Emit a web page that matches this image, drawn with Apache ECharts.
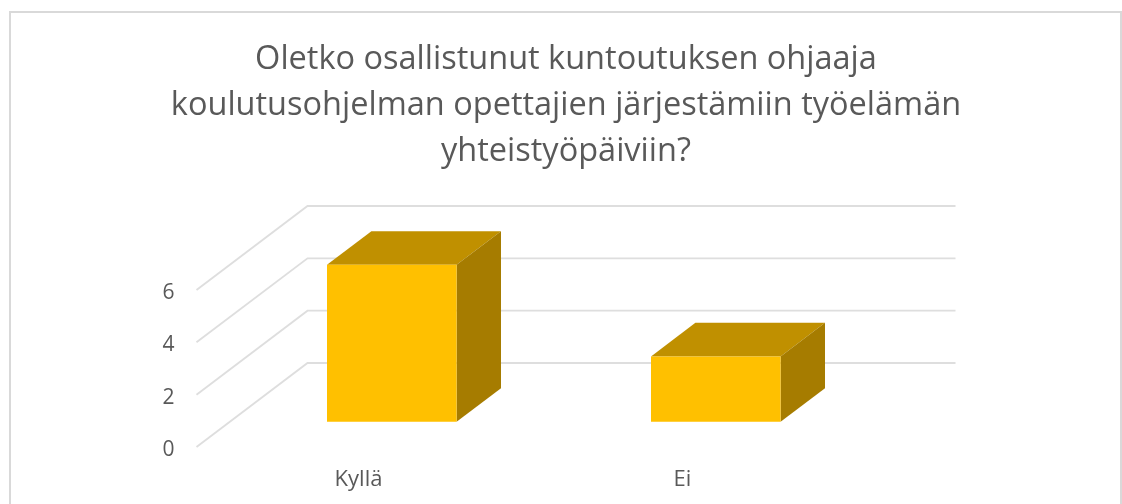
<!DOCTYPE html>
<html>
<head>
<meta charset="utf-8">
<style>
html, body { margin: 0; padding: 0; background: #fff; overflow: hidden; }
#chart { width: 1122px; height: 504px; }
</style>
<script src="https://cdn.jsdelivr.net/npm/echarts@6/dist/echarts.min.js"></script>
</head>
<body>
<div id="chart"></div>
<script>
let title_lines = [
    "Oletko osallistunut kuntoutuksen ohjaaja",
    "koulutusohjelman opettajien järjestämiin työelämän",
    "yhteistyöpäiviin?"
];
let categories = ["Kyllä", "Ei"];
let values = [6, 2.5];
let y_ticks = [0, 2, 4, 6];

let font = '"Open Sans", sans-serif';

// how far the back wall sits from the front plane of the grid
let depth_x = 111;
let depth_y = -84;
// bars stand between these fractions of the depth
let bar_front = 0.3;
let bar_back = 0.7;

// floor-to-wall lines: from front plane, up the side wall, along the back wall
function render_wall_line(params, api)
{
    let start = api.coord([0, api.value(0)]);
    let left = start[0] - api.size([1, 0])[0] / 2;
    let right = left + api.size([1, 0])[0] * categories.length;
    let y = start[1];

    return {
        type: 'polyline',
        shape: {
            points: [
                [left, y],
                [left + depth_x, y + depth_y],
                [right + depth_x, y + depth_y]
            ]
        },
        style: { stroke: '#dedede', lineWidth: 1.8, fill: 'none' }
    };
}

function render_bar(params, api)
{
    let top = api.coord([api.value(0), api.value(1)]);
    let base = api.coord([api.value(0), 0]);
    let w = api.size([1, 0])[0] * 0.4;

    let x0 = top[0] - w / 2 + depth_x * bar_front;
    let x1 = x0 + w;
    let y0 = top[1] + depth_y * bar_front;
    let y1 = base[1] + depth_y * bar_front;
    let dx = depth_x * (bar_back - bar_front);
    let dy = depth_y * (bar_back - bar_front);

    return {
        type: 'group',
        children: [
            {
                type: 'polygon',
                shape: { points: [[x0, y0], [x0 + dx, y0 + dy], [x1 + dx, y0 + dy], [x1, y0]] },
                style: { fill: '#c09000' }
            },
            {
                type: 'polygon',
                shape: { points: [[x1, y0], [x1 + dx, y0 + dy], [x1 + dx, y1 + dy], [x1, y1]] },
                style: { fill: '#a67c00' }
            },
            {
                type: 'rect',
                shape: { x: x0, y: y0, width: w, height: y1 - y0 },
                style: { fill: '#ffc000' }
            }
        ]
    };
}

let myChart = echarts.init(document.getElementById("chart"));

let option = {
    animation: false,
    backgroundColor: '#fff',
    graphic: [{
        type: 'rect',
        shape: { x: 10, y: 12, width: 1111, height: 600 },
        style: { fill: 'none', stroke: '#d9d9d9', lineWidth: 2 },
        silent: true
    }],
    title: {
        text: title_lines.join("\n"),
        left: 561,
        top: 32,
        textAlign: 'center',
        textStyle: {
            fontFamily: font,
            fontSize: 32.5,
            fontWeight: 'normal',
            color: '#595959',
            lineHeight: 46
        }
    },
    grid: { left: 196.5, top: 290, width: 648, height: 157 },
    xAxis: {
        type: 'category',
        data: categories,
        axisLine: { show: false },
        axisTick: { show: false },
        axisLabel: { fontFamily: font, fontSize: 22, color: '#595959', margin: 22 }
    },
    yAxis: {
        type: 'value',
        min: 0,
        max: 6,
        interval: 2,
        splitLine: { show: false },
        axisLine: { show: false },
        axisTick: { show: false },
        // labels sit a little below their lines in the original
        axisLabel: { fontFamily: font, fontSize: 21, color: '#595959', margin: 22, verticalAlign: 'top', lineHeight: 6 }
    },
    series: [
        {
            type: 'custom',
            name: 'walls',
            silent: true,
            clip: false,
            renderItem: render_wall_line,
            data: y_ticks.map(t => [t]),
            encode: { y: 0 }
        },
        {
            type: 'custom',
            name: 'values',
            clip: false,
            renderItem: render_bar,
            data: values.map((v, i) => [i, v]),
            encode: { x: 0, y: 1 }
        }
    ]
};
myChart.setOption(option);
</script>
</body>
</html>
